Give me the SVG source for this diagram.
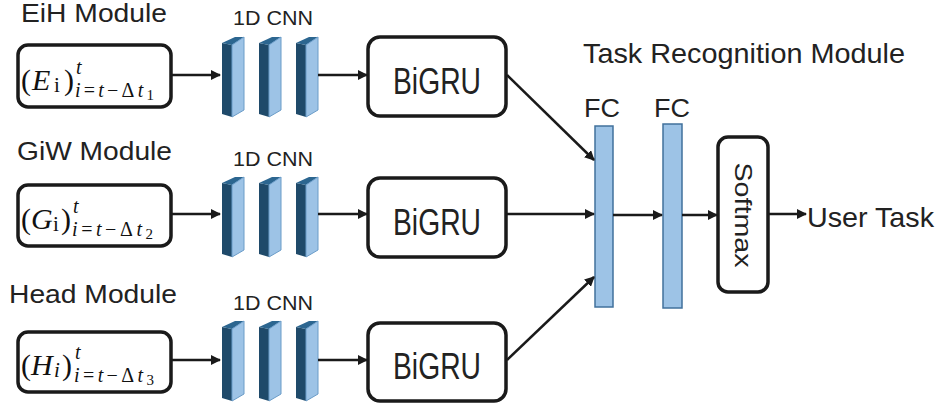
<svg xmlns="http://www.w3.org/2000/svg" xmlns:xlink="http://www.w3.org/1999/xlink" width="938" height="411" viewBox="0 0 938 411">
<style>
.box{fill:#fff;stroke:#1a1a1a;stroke-width:3.5}
.lbl{font-family:"Liberation Sans",Arial,sans-serif;fill:#222}
.mth{font-family:"Liberation Serif","Times New Roman",serif;fill:#111}
.it{font-style:italic}
.fc{fill:#9dc3e6;stroke:#41719c;stroke-width:1.5}
.con{stroke:#1a1a1a;stroke-width:2.5;fill:none;marker-end:url(#ah)}
</style>
<defs>
<marker id="ah" viewBox="0 0 10 10" refX="9" refY="5" markerWidth="4" markerHeight="4" orient="auto" markerUnits="strokeWidth">
<path d="M0,0 L10,5 L0,10 z" fill="#1a1a1a"/>
</marker>
<g id="blk">
<polygon points="0,6 10,8 10,80 0,77" fill="#1f4a6a"/>
<polygon points="0,6 13,0 22,0 10,8" fill="#2c6690"/>
<polygon points="10,8 22,0 22,73 10,80" fill="#9dc3e6" stroke="#6a9cc8" stroke-width="1"/>
</g>
</defs>

<g id="labels">
<text class="lbl" x="21" y="22" font-size="25" textLength="146" lengthAdjust="spacingAndGlyphs">EiH Module</text>
<text class="lbl" x="17" y="160" font-size="25" textLength="155" lengthAdjust="spacingAndGlyphs">GiW Module</text>
<text class="lbl" x="9" y="303" font-size="25" textLength="168" lengthAdjust="spacingAndGlyphs">Head Module</text>
<text class="lbl" x="583" y="63" font-size="28" textLength="322" lengthAdjust="spacingAndGlyphs">Task Recognition Module</text>
</g>

<g id="input-e">
<rect class="box" x="18" y="45" width="153" height="62" rx="10"/>
<text class="mth" y="90" font-size="30"><tspan x="21">(</tspan><tspan x="32" class="it">E</tspan><tspan x="54" font-size="21" dy="2">i</tspan><tspan x="64" dy="-2">)</tspan></text>
<text class="mth it" x="76" y="74" font-size="20">t</text>
<text class="mth" x="75" y="97" font-size="20" textLength="79" lengthAdjust="spacing"><tspan class="it">i</tspan>=<tspan class="it">t</tspan>−Δ<tspan class="it">t</tspan><tspan font-size="15" dy="3">1</tspan></text>
</g>
<g id="input-g">
<rect class="box" x="18" y="185" width="153" height="61" rx="10"/>
<text class="mth" y="229" font-size="30"><tspan x="21">(</tspan><tspan x="31" class="it">G</tspan><tspan x="53" font-size="21" dy="2">i</tspan><tspan x="61" dy="-2">)</tspan></text>
<text class="mth it" x="73" y="213" font-size="20">t</text>
<text class="mth" x="72" y="236" font-size="20" textLength="81" lengthAdjust="spacing"><tspan class="it">i</tspan>=<tspan class="it">t</tspan>−Δ<tspan class="it">t</tspan><tspan font-size="15" dy="3">2</tspan></text>
</g>
<g id="input-h">
<rect class="box" x="18" y="332" width="153" height="60" rx="10"/>
<text class="mth" y="375" font-size="30"><tspan x="21">(</tspan><tspan x="31" class="it">H</tspan><tspan x="54" font-size="21" dy="2" class="it">i</tspan><tspan x="62" dy="-2">)</tspan></text>
<text class="mth it" x="75" y="359" font-size="20">t</text>
<text class="mth" x="74" y="382" font-size="20" textLength="80" lengthAdjust="spacing"><tspan class="it">i</tspan>=<tspan class="it">t</tspan>−Δ<tspan class="it">t</tspan><tspan font-size="15" dy="3">3</tspan></text>
</g>

<g id="cnn-1">
<text class="lbl" x="233" y="25" font-size="20" textLength="80" lengthAdjust="spacingAndGlyphs">1D CNN</text>
<use xlink:href="#blk" x="222" y="37"/><use xlink:href="#blk" x="259" y="37"/><use xlink:href="#blk" x="296" y="37"/>
</g>
<g id="cnn-2">
<text class="lbl" x="233" y="166" font-size="20" textLength="80" lengthAdjust="spacingAndGlyphs">1D CNN</text>
<use xlink:href="#blk" x="222" y="177"/><use xlink:href="#blk" x="259" y="177"/><use xlink:href="#blk" x="296" y="177"/>
</g>
<g id="cnn-3">
<text class="lbl" x="233" y="310" font-size="20" textLength="80" lengthAdjust="spacingAndGlyphs">1D CNN</text>
<use xlink:href="#blk" x="222" y="321"/><use xlink:href="#blk" x="259" y="321"/><use xlink:href="#blk" x="296" y="321"/>
</g>

<g id="bigru-1">
<rect class="box" x="368" y="37" width="138" height="79" rx="12"/>
<text class="lbl" x="393" y="94" font-size="36" textLength="88" lengthAdjust="spacingAndGlyphs">BiGRU</text>
</g>
<g id="bigru-2">
<rect class="box" x="368" y="178" width="138" height="79" rx="12"/>
<text class="lbl" x="393" y="235" font-size="36" textLength="88" lengthAdjust="spacingAndGlyphs">BiGRU</text>
</g>
<g id="bigru-3">
<rect class="box" x="368" y="323" width="138" height="78" rx="12"/>
<text class="lbl" x="393" y="379" font-size="36" textLength="88" lengthAdjust="spacingAndGlyphs">BiGRU</text>
</g>

<g id="fc-1">
<text class="lbl" x="584" y="117" font-size="26" textLength="36" lengthAdjust="spacingAndGlyphs">FC</text>
<rect class="fc" x="595" y="126" width="18" height="181"/>
</g>
<g id="fc-2">
<text class="lbl" x="654" y="117" font-size="26" textLength="36" lengthAdjust="spacingAndGlyphs">FC</text>
<rect class="fc" x="663" y="124" width="19" height="184"/>
</g>
<g id="softmax">
<rect class="box" x="718" y="137" width="50" height="155" rx="10"/>
<text class="lbl" transform="translate(743,215) rotate(90)" x="0" y="8.5" font-size="24" text-anchor="middle" textLength="105" lengthAdjust="spacingAndGlyphs">Softmax</text>
</g>
<g id="output">
<text class="lbl" x="807" y="227" font-size="28" textLength="127" lengthAdjust="spacingAndGlyphs">User Task</text>
</g>

<g id="connectors">
<line class="con" x1="171" y1="75" x2="220" y2="75"/>
<line class="con" x1="171" y1="214" x2="220" y2="214"/>
<line class="con" x1="171" y1="360" x2="220" y2="360"/>
<line class="con" x1="318" y1="75" x2="367" y2="75"/>
<line class="con" x1="318" y1="214" x2="367" y2="214"/>
<line class="con" x1="318" y1="360" x2="367" y2="360"/>
<line class="con" x1="507" y1="75" x2="594" y2="160"/>
<line class="con" x1="507" y1="214" x2="594" y2="214"/>
<line class="con" x1="507" y1="360" x2="594" y2="277"/>
<line class="con" x1="613" y1="215" x2="662" y2="215"/>
<line class="con" x1="682" y1="215" x2="717" y2="215"/>
<line class="con" x1="768" y1="214" x2="806" y2="214"/>
</g>
</svg>
